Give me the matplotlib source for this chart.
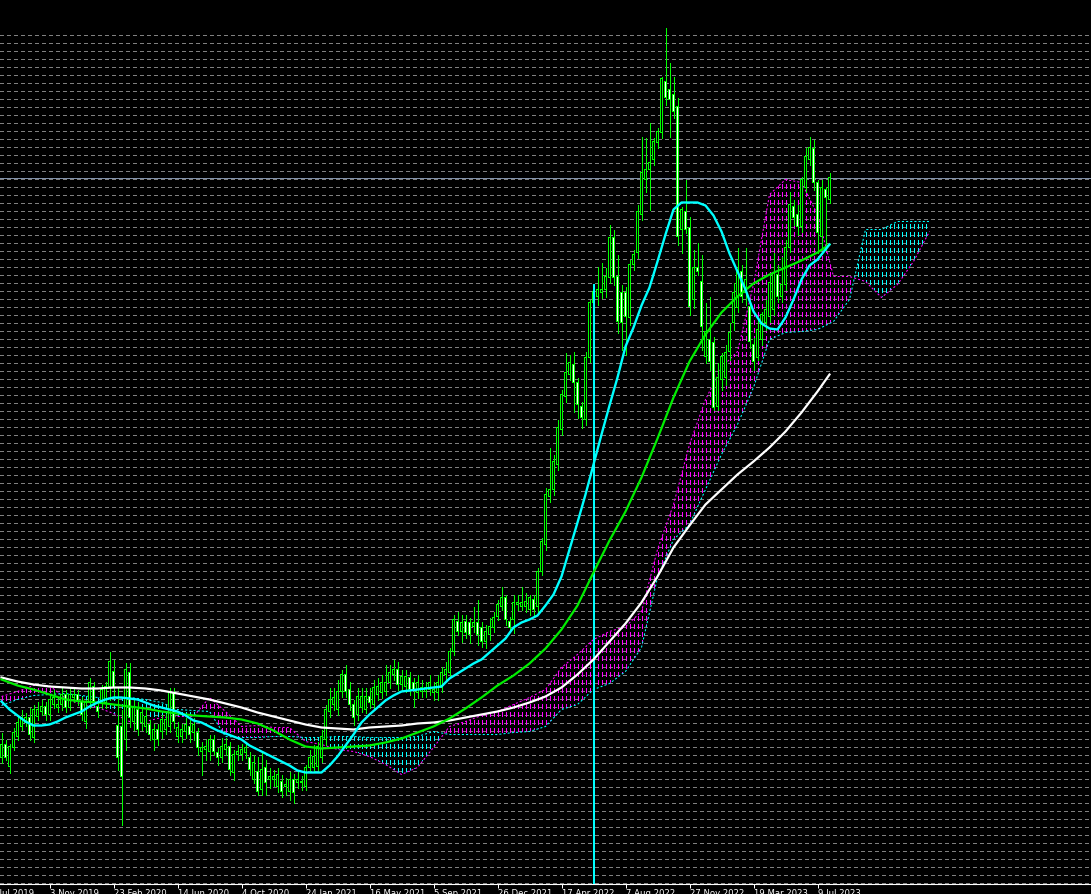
import numpy as np
import pandas as pd
import matplotlib
matplotlib.use("Agg")
import matplotlib.pyplot as plt
import matplotlib.dates as mdates
from matplotlib.path import Path

# ---------------- data (weekly candles, arbitrary price units) ----------------
first_week = "2019-08-11"

open_ = [
    242, 255, 233, 252, 263, 273, 277, 282, 262, 283,
    288, 293, 285, 295, 292, 295, 305, 292, 302, 305,
    298, 278, 297, 313, 293, 297, 297, 313, 328, 274,
    273, 260, 327, 278, 290, 277, 273, 275, 260, 270,
    268, 270, 273, 307, 263, 263, 268, 273, 267, 267,
    248, 250, 248, 260, 247, 242, 250, 253, 227, 245,
    245, 247, 242, 220, 228, 210, 232, 220, 220, 213,
    218, 213, 208, 220, 217, 217, 213, 232, 232, 233,
    242, 260, 288, 295, 290, 308, 325, 310, 295, 285,
    292, 290, 303, 295, 305, 307, 308, 317, 325, 330,
    315, 313, 322, 317, 307, 308, 308, 310, 307, 307,
    312, 325, 327, 348, 378, 368, 378, 377, 373, 377,
    372, 358, 365, 372, 383, 393, 402, 378, 380, 395,
    393, 393, 390, 400, 393, 428, 455, 503, 510, 535,
    570, 603, 625, 635, 617, 593, 580, 642, 697, 703,
    707, 710, 722, 762, 723, 707, 707, 682, 735, 747,
    785, 820, 830, 840, 857, 867, 918, 910, 905, 893,
    770, 788, 772, 700, 732, 718, 643, 660, 657, 593,
    620, 622, 648, 677, 692, 728, 707, 693, 655, 642,
    660, 677, 683, 690, 725, 703, 715, 752, 793, 785,
    773, 812, 840, 851, 817, 763, 810, 800]

high = [
    267, 260, 256, 272, 285, 290, 287, 292, 295, 298,
    300, 298, 306, 310, 302, 312, 310, 312, 312, 310,
    303, 300, 322, 318, 298, 315, 318, 348, 340, 312,
    290, 337, 337, 300, 298, 293, 290, 280, 276, 276,
    285, 286, 312, 312, 278, 276, 282, 280, 282, 272,
    258, 260, 265, 265, 252, 262, 262, 258, 250, 255,
    256, 258, 248, 245, 243, 247, 240, 232, 230, 232,
    225, 222, 228, 226, 228, 224, 235, 250, 255, 258,
    270, 295, 312, 312, 320, 330, 335, 318, 300, 312,
    312, 312, 312, 320, 322, 325, 335, 335, 340, 338,
    330, 330, 328, 322, 325, 320, 318, 325, 318, 325,
    333, 338, 352, 385, 388, 385, 385, 382, 393, 400,
    378, 375, 382, 388, 400, 413, 405, 383, 405, 405,
    413, 407, 405, 405, 432, 462, 512, 552, 545, 580,
    610, 647, 645, 648, 622, 598, 648, 700, 715, 733,
    737, 732, 775, 770, 745, 715, 713, 740, 750, 795,
    863, 862, 877, 862, 872, 923, 972, 937, 923, 902,
    793, 820, 783, 750, 757, 745, 697, 703, 663, 637,
    647, 655, 677, 717, 752, 735, 752, 700, 662, 680,
    688, 700, 725, 747, 735, 743, 760, 808, 800, 795,
    823, 852, 863, 860, 820, 820, 813, 827]

low = [
    237, 240, 227, 250, 260, 270, 274, 260, 258, 280,
    285, 280, 280, 292, 288, 290, 288, 290, 298, 295,
    280, 272, 292, 295, 283, 292, 292, 300, 302, 230,
    175, 250, 273, 270, 265, 270, 268, 260, 250, 255,
    262, 266, 268, 272, 258, 258, 262, 258, 260, 245,
    225, 240, 240, 245, 235, 238, 245, 225, 220, 240,
    240, 242, 225, 217, 205, 205, 205, 212, 214, 208,
    203, 205, 200, 197, 212, 210, 210, 228, 228, 230,
    238, 255, 283, 290, 285, 303, 303, 290, 275, 280,
    288, 287, 292, 290, 300, 302, 305, 312, 320, 310,
    310, 308, 305, 293, 302, 303, 303, 305, 300, 300,
    308, 320, 322, 345, 365, 358, 362, 357, 368, 355,
    353, 352, 360, 368, 380, 390, 375, 368, 367, 390,
    390, 388, 385, 385, 388, 425, 450, 498, 505, 530,
    565, 598, 620, 588, 582, 572, 575, 638, 690, 695,
    702, 703, 717, 715, 667, 650, 645, 675, 730, 742,
    780, 808, 790, 835, 852, 862, 895, 863, 882, 755,
    747, 767, 685, 692, 725, 650, 637, 630, 590, 590,
    610, 615, 640, 670, 688, 698, 695, 652, 630, 640,
    655, 670, 678, 685, 698, 698, 710, 748, 775, 765,
    768, 808, 835, 810, 747, 750, 750, 797]

close = [
    255, 242, 253, 267, 277, 282, 282, 265, 290, 290,
    293, 285, 300, 302, 295, 305, 292, 305, 305, 298,
    285, 297, 317, 298, 288, 310, 313, 338, 312, 242,
    223, 330, 282, 293, 270, 287, 283, 265, 270, 260,
    280, 280, 307, 278, 272, 270, 275, 265, 275, 252,
    252, 253, 260, 248, 242, 253, 255, 230, 245, 248,
    250, 252, 230, 237, 208, 230, 217, 223, 223, 225,
    208, 215, 220, 207, 220, 218, 232, 242, 243, 253,
    263, 290, 300, 302, 308, 325, 308, 295, 282, 303,
    303, 303, 297, 312, 313, 317, 317, 327, 330, 315,
    323, 323, 310, 310, 317, 312, 312, 317, 310, 317,
    327, 330, 348, 380, 368, 377, 367, 365, 377, 365,
    358, 368, 373, 382, 395, 402, 380, 372, 397, 397,
    397, 398, 402, 390, 428, 458, 505, 510, 538, 572,
    605, 627, 637, 617, 595, 582, 642, 697, 708, 710,
    710, 723, 762, 722, 678, 677, 683, 735, 745, 788,
    827, 830, 837, 858, 868, 921, 902, 900, 888, 763,
    790, 770, 693, 732, 728, 673, 668, 638, 592, 622,
    643, 647, 667, 707, 728, 703, 720, 658, 638, 670,
    685, 690, 717, 727, 703, 715, 752, 795, 782, 773,
    820, 843, 852, 817, 767, 812, 802, 822]

# fast moving average read every 2 weeks (plus the last week)
ma_fast = [298, 290, 284, 278, 274, 274, 275, 278, 282, 285,
           288, 293, 297, 300, 302, 302, 301, 300, 297, 294,
           292, 290, 288, 284, 279, 277, 273, 269, 266, 263,
           260, 254, 250, 246, 242, 238, 234, 229, 227, 227,
           227, 234, 243, 254, 265, 277, 285, 292, 299, 304,
           308, 309, 310, 311, 312, 313, 321, 326, 331, 336,
           340, 347, 354, 361, 372, 377, 380, 384, 394, 405,
           423, 450, 477, 505, 535, 565, 594, 622, 653, 672,
           694, 712, 738, 765, 790, 797, 797, 797, 794, 784,
           768, 746, 728, 710, 688, 676, 671, 670, 682, 700,
           720, 734, 740, 750, 755]
# medium and slow moving averages read every 4 weeks (plus the last week)
ma_mid = [320, 314, 310, 305, 300, 298, 297, 295, 293, 291,
          288, 286, 284, 283, 282, 280, 276, 269, 260, 253,
          251, 252, 253, 254, 257, 261, 267, 273, 281, 291,
          302, 314, 324, 336, 351, 370, 394, 427, 459, 488,
          522, 561, 602, 638, 665, 687, 703, 716, 725, 732,
          739, 747, 755]
ma_slow = [322, 318, 315, 313, 312, 311, 311, 312, 312, 311,
           309, 306, 303, 300, 296, 292, 287, 283, 279, 275,
           272, 271, 270, 272, 273, 274, 276, 277, 279, 282,
           285, 288, 292, 297, 303, 312, 325, 340, 358, 376,
           397, 423, 452, 474, 495, 510, 525, 538, 552, 568,
           587, 608, 625]

# Ichimoku cloud spans, read every 4 weeks (extends 26 weeks ahead)
span_a = [303, 308, 314, 314, 301, 295, 292, 286, 278, 278,
          282, 283, 283, 302, 288, 273, 274, 272, 272, 258,
          255, 250, 248, 243, 235, 225, 232, 252, 273, 278,
          284, 288, 295, 302, 310, 332, 345, 360, 368, 373,
          388, 450, 495, 555, 600, 632, 648, 715, 805, 820,
          817, 785, 723, 723, 718, 702, 715, 738, 768]
span_b = [294, 300, 304, 305, 306, 304, 302, 301, 302, 300,
          297, 290, 289, 288, 263, 262, 262, 263, 263, 262,
          262, 263, 263, 262, 262, 262, 263, 268, 265, 265,
          265, 265, 267, 268, 273, 290, 295, 310, 316, 328,
          352, 422, 460, 475, 510, 545, 575, 612, 660, 667,
          668, 670, 678, 700, 770, 770, 778, 778, 778]

marker_week = "2022-06-12"     # vertical cyan marker
marker_top = 715

tick_dates = ["2019-07-14", "2019-11-03", "2020-02-23", "2020-06-14", "2020-10-04",
              "2021-01-24", "2021-05-16", "2021-09-05", "2021-12-26", "2022-04-17",
              "2022-08-07", "2022-11-27", "2023-03-19", "2023-07-09"]
tick_labels = ["14 Jul 2019", "3 Nov 2019", "23 Feb 2020", "14 Jun 2020", "4 Oct 2020",
               "24 Jan 2021", "16 May 2021", "5 Sep 2021", "26 Dec 2021", "17 Apr 2022",
               "7 Aug 2022", "27 Nov 2022", "19 Mar 2023", "9 Jul 2023"]

# ---------------- checks ----------------
n = len(close)
assert len(open_) == n and len(high) == n and len(low) == n, (len(open_), len(high), len(low), n)
assert len(ma_mid) == len(ma_slow)
assert len(span_a) == len(span_b)

# ---------------- styling ----------------
LIME = "#00FF00"
CYAN = "#00FFFF"
MAG = "#FF00FF"
GRID = "#808080"
plt.rcParams["savefig.facecolor"] = "#000000"

weeks = pd.date_range(first_week, periods=n + 27, freq="7D")
dn = mdates.date2num(weeks.to_pydatetime())
PX = 7.0 / 4.0          # days per screen pixel (4 px per weekly bar)

o = np.array(open_, float)
h = np.array(high, float)
l = np.array(low, float)
c = np.array(close, float)
x = dn[:n]

fast_x = np.concatenate([dn[0:n - 1:2], dn[n - 1:n]])
ma_x = np.concatenate([dn[0:n - 3:4], dn[n - 1:n]])
assert len(fast_x) == len(ma_fast), (len(fast_x), len(ma_fast))
assert len(ma_x) == len(ma_mid), (len(ma_x), len(ma_mid))
cloud_x = dn[0:4 * len(span_a):4]
A = np.array(span_a, float)
B = np.array(span_b, float)

YMIN, YMAX = 115.5, 1000.5

fig = plt.figure(figsize=(10.91, 8.95), dpi=100, facecolor="#000000")
ax = fig.add_axes([0, 10 / 895, 1, 885 / 895], facecolor="#000000")

# grid
levels = np.arange(965, YMIN, -8)
ax.hlines(levels, 0, 1, transform=ax.get_yaxis_transform(), colors=GRID,
          linewidth=0.72, linestyles=(0, (3, 3)), zorder=0.5, antialiased=False)

# cloud
mag = ax.fill_between(cloud_x, A, B, where=A >= B, interpolate=True,
                      facecolor="none", edgecolor="none", linewidth=0)
cya = ax.fill_between(cloud_x, A, B, where=A < B, interpolate=True,
                      facecolor="none", edgecolor="none", linewidth=0)
hatch_x = dn[:4 * (len(span_a) - 1) + 1]
for coll, col in ((mag, MAG), (cya, CYAN)):
    paths = coll.get_paths()
    if not paths:
        continue
    cp = Path.make_compound_path(*paths)
    vl = ax.vlines(hatch_x, YMIN, YMAX, colors=col, linewidth=0.72,
                   linestyles=(0, (4.5, 4)), zorder=1, antialiased=False)
    vl.set_clip_path(cp, ax.transData)
ax.plot(cloud_x, A, color=MAG, lw=0.75, ls=(0, (2, 2)), zorder=1.5)
ax.plot(cloud_x, B, color=CYAN, lw=0.75, ls=(0, (2, 2)), zorder=1.5)

# bid line
ax.axhline(c[-1], color="#8090A8", lw=0.72, zorder=2, antialiased=False)

# candles: wick, 3-px green body, 1-px inner fill
up = c >= o
ax.vlines(x, l, h, colors=LIME, linewidth=0.72, zorder=3, antialiased=False)
lo_b = np.minimum(o, c)
hi_b = np.maximum(o, c)
outer = ax.bar(x, hi_b - lo_b + 1, bottom=lo_b - 0.5, width=3 * PX, color=LIME,
               linewidth=0, zorder=4, antialiased=False)
inner_h = np.maximum(hi_b - lo_b - 1, 0)
inner_up = ax.bar(x[up], inner_h[up], bottom=lo_b[up] + 0.5, width=1 * PX,
                  color="#000000", linewidth=0, zorder=4.1, antialiased=False)
inner_dn = ax.bar(x[~up], inner_h[~up], bottom=lo_b[~up] + 0.5, width=1 * PX,
                  color="#FFFFFF", linewidth=0, zorder=4.1, antialiased=False)
for cont in (outer, inner_up, inner_dn):
    for p in cont.patches:
        p.set_snap(False)

# vertical marker (2 px wide)
mx = mdates.datestr2num(marker_week)
marker = ax.bar([mx + 0.5 * PX], [marker_top - YMIN], bottom=YMIN, width=2 * PX,
                color=CYAN, linewidth=0, zorder=4.5, antialiased=False)
for p in marker.patches:
    p.set_snap(False)

# moving averages
ax.plot(ma_x, ma_slow, color="#FFFFFF", lw=1.6, zorder=5)
ax.plot(ma_x, ma_mid, color="#00EE00", lw=1.6, zorder=5.1)
ax.plot(fast_x, ma_fast, color=CYAN, lw=1.7, zorder=5.2)

# axes
left = dn[0] - 1.5 * PX
right = left + 1091 * PX
ax.set_xlim(left, right)
ax.set_ylim(YMIN, YMAX)
for s in ("left", "right", "top"):
    ax.spines[s].set_visible(False)
ax.spines["bottom"].set_color("white")
ax.spines["bottom"].set_linewidth(0.8)
ax.set_yticks([])
tnums = [mdates.datestr2num(d) for d in tick_dates]
ax.set_xticks([t for t in tnums if t >= left])
ax.tick_params(axis="x", direction="out", length=2.9, width=0.72, colors="white",
               labelbottom=False)
ax.set_xlim(left, right)
for t, lab in zip(tnums, tick_labels):
    ax.annotate(lab, xy=(t, 0), xycoords=("data", "axes fraction"),
                xytext=(0.6, -3.0), textcoords="offset points", ha="left", va="top",
                color="white", fontsize=6.1, family="DejaVu Sans",
                annotation_clip=False)

fig.savefig("out.png", dpi=100, facecolor="#000000")
